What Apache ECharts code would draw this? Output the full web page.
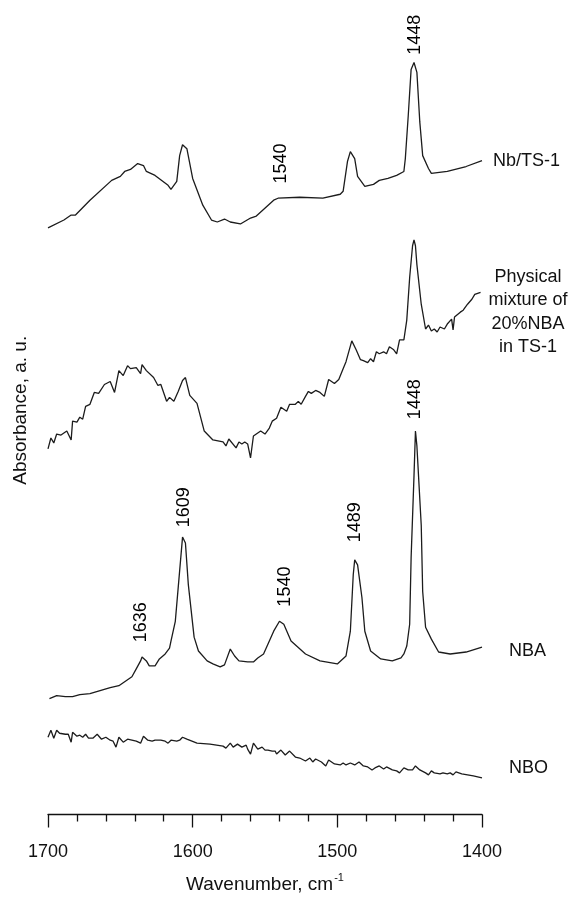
<!DOCTYPE html>
<html>
<head>
<meta charset="utf-8">
<script src="https://cdn.jsdelivr.net/npm/echarts@6/dist/echarts.min.js"></script>
<style>
html,body{margin:0;padding:0;background:#fff;}
#chart{width:575px;height:899px;}
</style>
</head>
<body>
<div id="chart"></div>
<script>
// x-axis tick labels (wavenumber, cm-1), axis runs 1700 -> 1400
var xTicks = [1700, 1600, 1500, 1400];

// Nb/TS-1 spectrum (wavenumber, absorbance a.u. incl. vertical offset)
var nbtsWn = [1700,1689,1684,1681,1671,1656,1650,1647,1643,1638,
              1634,1632,1626,1617,1615,1611,1609,1607,1604,1600,
              1593,1587,1583,1578,1574,1567,1560,1556,1544,1541,
              1526,1510,1498,1496,1493,1491,1488,1486,1481,1475,
              1471,1465,1459,1454,1453,1451,1449,1447,1445,1443,
              1441,1437,1435,1424,1411,1400];
var nbtsAbs = [592,600,605,605,620,640,644,649,651,657,
               655,649,645,635,631,639,665,676,672,642,
               615,600,598,601,598,596,602,604,620,622,
               623,622,626,629,659,669,662,644,634,636,
               640,642,645,649,662,705,752,759,749,699,
               665,652,647,649,654,660];

// Physical mixture of 20%NBA in TS-1
var mixWn = [1700,1698,1696,1694,1691,1687,1684,1683,1680,1678,
             1676,1674,1671,1668,1665,1661,1657,1654,1651,1648,
             1645,1643,1639,1636,1635,1632,1627,1624,1622,1618,
             1616,1613,1610,1607,1605,1602,1597,1592,1586,1579,
             1577,1575,1570,1568,1566,1564,1562,1560,1558,1553,
             1550,1547,1545,1542,1539,1535,1533,1529,1527,1525,
             1522,1520,1518,1515,1512,1509,1506,1502,1499,1496,
             1494,1490,1487,1484,1482,1479,1477,1475,1473,1471,
             1468,1466,1464,1461,1459,1457,1454,1452,1450,1448,
             1447,1446,1445,1442,1439,1437,1435,1433,1431,1429,
             1426,1424,1421,1420,1419,1415,1413,1410,1407,1405,
             1403,1401];
var mixAbs = [369,380,375,384,383,387,378,397,396,401,
              399,412,414,426,425,434,437,426,448,443,
              453,450,451,445,454,448,441,433,434,417,
              421,417,427,438,441,423,415,387,378,376,
              372,379,370,376,374,376,374,360,382,387,
              384,390,397,400,411,407,414,414,417,414,
              422,427,425,428,426,422,439,435,439,450,
              457,478,469,459,458,456,460,457,467,465,
              467,465,472,469,465,479,479,499,542,574,
              580,574,555,515,490,494,488,490,487,492,
              490,495,500,489,502,507,509,515,520,525,
              526,527];

// NBA spectrum
var nbaWn = [1699,1694,1688,1683,1678,1671,1664,1657,1651,1647,
             1642,1639,1636,1635,1632,1630,1626,1623,1619,1616,
             1615,1612,1610,1607,1605,1603,1599,1596,1590,1586,
             1581,1578,1574,1571,1568,1562,1558,1555,1551,1544,
             1540,1537,1532,1522,1512,1500,1494,1491,1489,1488,
             1486,1483,1481,1477,1470,1462,1456,1454,1452,1450,
             1449,1447,1446,1445,1442,1441,1439,1435,1430,1422,
             1411,1400];
var nbaAbs = [117,120,119,119,121,122,125,128,130,134,
              139,147,155,159,155,150,150,157,162,168,
              175,195,229,280,274,232,179,165,155,152,
              149,151,167,160,155,154,154,158,162,185,
              195,192,175,162,155,152,160,185,242,257,
              252,219,185,165,157,155,158,162,170,192,
              259,342,387,372,292,225,189,177,164,162,
              164,169];

// NBO spectrum
var nboWn = [1700,1698,1696,1694,1692,1688,1686,1684,1683,1680,
             1678,1676,1674,1672,1669,1666,1663,1660,1657,1655,
             1653,1651,1648,1645,1642,1639,1636,1634,1631,1628,
             1626,1625,1622,1619,1617,1615,1611,1609,1607,1604,
             1597,1588,1579,1577,1574,1572,1569,1566,1563,1562,
             1560,1558,1555,1552,1550,1548,1545,1543,1542,1539,
             1536,1533,1529,1526,1522,1519,1517,1515,1511,1508,
             1506,1502,1498,1496,1494,1491,1488,1485,1482,1479,
             1476,1474,1471,1468,1466,1462,1459,1457,1454,1451,
             1448,1446,1443,1439,1437,1435,1433,1429,1427,1424,
             1422,1420,1418,1414,1410,1406,1405,1403,1400];
var nboAbs = [78,85,77,85,82,81,81,73,83,79,
              80,78,81,77,77,81,76,78,75,74,
              68,78,73,76,75,74,72,79,75,74,
              75,73,75,74,72,75,74,75,78,76,
              72,71,69,67,72,68,71,68,70,66,
              61,72,66,68,65,65,64,64,61,65,
              60,64,58,57,54,57,53,56,53,49,
              55,51,50,52,50,52,50,53,49,48,
              45,47,49,46,48,45,44,42,47,45,
              45,49,45,42,40,44,42,41,42,41,
              42,40,43,41,40,39,40,38,37];

// Peak annotations: [wavenumber, absorbance position, text]
var peakWn   = [1446, 1539, 1446, 1606, 1636, 1536, 1488];
var peakPos  = [787, 657, 419, 310, 194, 230, 295];
var peakText = ['1448','1540','1448','1609','1636','1540','1489'];

// Spectrum names
var specNames = ['Nb/TS-1', 'Physical\nmixture of\n20%NBA\nin TS-1', 'NBA', 'NBO'];

function zip(a, b) { var r = []; for (var i = 0; i < a.length; i++) r.push([a[i], b[i]]); return r; }

var FONT = '"Liberation Sans", Arial, Helvetica, sans-serif';
var INK = '#111';
var LINE = '#1c1c1c';

var chart = echarts.init(document.getElementById('chart'), null, {renderer: 'canvas'});

function lineSeries(name, wn, ab) {
  return {
    name: name, type: 'line', data: zip(wn, ab), showSymbol: false, symbol: 'none',
    lineStyle: {color: LINE, width: 1.3}, animation: false, silent: true
  };
}

var peakData = [];
for (var i = 0; i < peakWn.length; i++) peakData.push({value: [peakWn[i], peakPos[i]], name: peakText[i]});

var option = {
  backgroundColor: '#fff',
  animation: false,
  grid: {left: 48, right: 93, top: 6, bottom: 77, containLabel: false},
  xAxis: {
    type: 'value', inverse: true, min: 1400, max: 1700, interval: 100,
    name: '{a|Wavenumber, cm}{b|-1}',
    nameLocation: 'middle', nameGap: 58,
    nameTextStyle: {
      color: INK, fontFamily: FONT,
      rich: {
        a: {fontSize: 19, fontFamily: FONT, color: INK, lineHeight: 24},
        b: {fontSize: 11, fontFamily: FONT, color: INK, verticalAlign: 'top', lineHeight: 24, padding: [0, 0, 0, 1]}
      }
    },
    axisLine: {show: true, lineStyle: {color: INK, width: 1.3}},
    axisTick: {show: true, length: 13, inside: false, lineStyle: {color: INK, width: 1.3}},
    minorTick: {show: true, splitNumber: 5, length: 7, lineStyle: {color: INK, width: 1.3}},
    axisLabel: {
      color: INK, fontSize: 18, fontFamily: FONT, margin: 29,
      formatter: function (v) { return xTicks.indexOf(v) >= 0 ? String(v) : ''; }
    },
    splitLine: {show: false}, minorSplitLine: {show: false}
  },
  yAxis: {
    type: 'value', min: 0, max: 816,
    name: 'Absorbance, a. u.', nameLocation: 'middle', nameGap: 18, nameRotate: 90,
    nameTextStyle: {color: INK, fontSize: 19, fontFamily: FONT},
    axisLine: {show: false}, axisTick: {show: false}, axisLabel: {show: false},
    splitLine: {show: false}
  },
  series: [
    lineSeries(specNames[0], nbtsWn, nbtsAbs),
    lineSeries(specNames[1], mixWn, mixAbs),
    lineSeries(specNames[2], nbaWn, nbaAbs),
    lineSeries(specNames[3], nboWn, nboAbs),
    {
      name: 'peaks', type: 'scatter', data: peakData, symbolSize: 2,
      itemStyle: {color: 'rgba(0,0,0,0)'}, silent: true, animation: false,
      label: {
        show: true, position: 'inside', rotate: 90,
        formatter: function (p) { return p.name; },
        color: '#000', opacity: 1, textBorderWidth: 0, textShadowBlur: 0,
        fontSize: 18, fontFamily: FONT
      }
    }
  ],
  graphic: [
    {type: 'text', x: 493, y: 161, style: {text: specNames[0], fill: INK, font: '18px ' + FONT, align: 'left', verticalAlign: 'middle'}},
    {type: 'text', x: 528, y: 312, style: {text: specNames[1], fill: INK, font: '18px ' + FONT, align: 'center', verticalAlign: 'middle', lineHeight: 23.3}},
    {type: 'text', x: 509, y: 651, style: {text: specNames[2], fill: INK, font: '18px ' + FONT, align: 'left', verticalAlign: 'middle'}},
    {type: 'text', x: 509, y: 768, style: {text: specNames[3], fill: INK, font: '18px ' + FONT, align: 'left', verticalAlign: 'middle'}}
  ]
};
chart.setOption(option);
</script>
</body>
</html>
